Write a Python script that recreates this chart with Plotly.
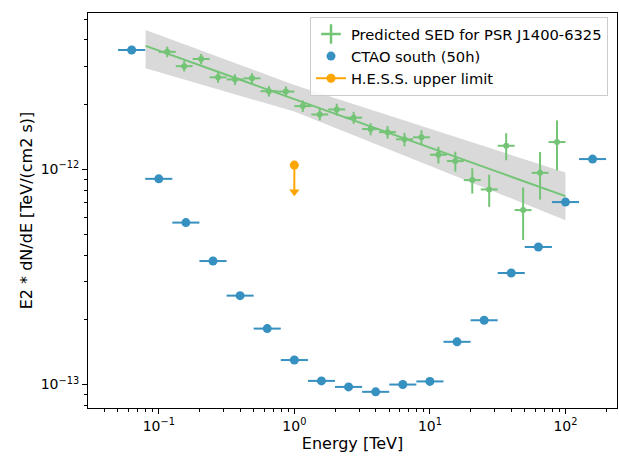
import plotly.graph_objects as go

# ---------------- data ----------------
# CTAO south (50h) sensitivity
ctao_energy = [0.0631, 0.1, 0.1585, 0.2512, 0.3981, 0.631, 1.0, 1.585, 2.512, 3.981,
               6.31, 10.0, 15.85, 25.12, 39.81, 63.1, 100.0, 158.5]
ctao_e_lo = [0.0501, 0.0794, 0.1259, 0.1995, 0.3162, 0.5012, 0.7943, 1.259, 1.995, 3.162,
             5.012, 7.943, 12.59, 19.95, 31.62, 50.12, 79.43, 125.9]
ctao_e_hi = [0.0794, 0.1259, 0.1995, 0.3162, 0.5012, 0.7943, 1.259, 1.995, 3.162, 5.012,
             7.943, 12.59, 19.95, 31.62, 50.12, 79.43, 125.9, 199.5]
ctao_flux = [3.59e-12, 9.04e-13, 5.66e-13, 3.75e-13, 2.59e-13, 1.82e-13, 1.30e-13, 1.04e-13,
             9.75e-14, 9.25e-14, 1.00e-13, 1.034e-13, 1.58e-13, 1.99e-13, 3.30e-13, 4.36e-13,
             7.05e-13, 1.117e-12]

# Predicted SED for PSR J1400-6325
sed_energy = [0.1155, 0.154, 0.2054, 0.2738, 0.3652, 0.487, 0.6494, 0.866, 1.155, 1.54,
              2.054, 2.738, 3.652, 4.87, 6.494, 8.66, 11.55, 15.4, 20.54, 27.38, 36.52,
              48.7, 64.94, 86.6]
sed_e_lo = [0.1, 0.1334, 0.1778, 0.2371, 0.3162, 0.4217, 0.5623, 0.7499, 1.0, 1.334, 1.778,
            2.371, 3.162, 4.217, 5.623, 7.499, 10.0, 13.34, 17.78, 23.71, 31.62, 42.17,
            56.23, 74.99]
sed_e_hi = [0.1334, 0.1778, 0.2371, 0.3162, 0.4217, 0.5623, 0.7499, 1.0, 1.334, 1.778, 2.371,
            3.162, 4.217, 5.623, 7.499, 10.0, 13.34, 17.78, 23.71, 31.62, 42.17, 56.23,
            74.99, 100.0]
sed_flux = [3.52e-12, 3.02e-12, 3.26e-12, 2.68e-12, 2.62e-12, 2.65e-12, 2.31e-12, 2.30e-12,
            1.97e-12, 1.80e-12, 1.90e-12, 1.74e-12, 1.54e-12, 1.49e-12, 1.38e-12, 1.41e-12,
            1.17e-12, 1.093e-12, 8.92e-13, 8.07e-13, 1.288e-12, 6.47e-13, 9.64e-13, 1.34e-12]
sed_err = [0.20e-12, 0.17e-12, 0.18e-12, 0.15e-12, 0.15e-12, 0.15e-12, 0.13e-12, 0.13e-12,
           0.12e-12, 0.11e-12, 0.12e-12, 0.11e-12, 0.10e-12, 0.10e-12, 0.10e-12, 0.11e-12,
           0.105e-12, 0.116e-12, 0.12e-12, 0.137e-12, 0.185e-12, 0.177e-12, 0.24e-12, 0.35e-12]

# Power-law model and its uncertainty band
model_energy = [0.08, 100.0]
model_flux = [3.75e-12, 7.51e-13]
band_energy = [0.08, 1.0, 100.0]
band_upper = [4.45e-12, 2.47e-12, 9.68e-13]
band_lower = [2.95e-12, 1.858e-12, 5.81e-13]

# H.E.S.S. upper limit
hess_energy = [1.0]
hess_flux = [1.047e-12]
hess_err = [0.26e-12]

# ticks
x_tickvals = [0.1, 1, 10, 100]
x_ticktext = ["10<sup>\u22121</sup>", "10<sup>0</sup>", "10<sup>1</sup>", "10<sup>2</sup>"]
y_tickvals = [1e-13, 1e-12]
y_ticktext = ["10<sup>\u221213</sup>", "10<sup>\u221212</sup>"]

GREEN = "#74c476"
BLUE = "#3690c0"
ORANGE = "#ffa500"
FONT = "DejaVu Sans"

fig = go.Figure()

# band
fig.add_trace(go.Scatter(x=band_energy, y=band_lower, mode="lines", line=dict(width=0),
                         showlegend=False, hoverinfo="skip"))
fig.add_trace(go.Scatter(x=band_energy, y=band_upper, mode="lines", line=dict(width=0),
                         fill="tonexty", fillcolor="#d9d9d9", showlegend=False, hoverinfo="skip"))
# model line
fig.add_trace(go.Scatter(x=model_energy, y=model_flux, mode="lines",
                         line=dict(color=GREEN, width=2), showlegend=False))
# SED points
fig.add_trace(go.Scatter(
    x=sed_energy, y=sed_flux, mode="markers",
    marker=dict(color=GREEN, size=6, symbol="circle"),
    error_x=dict(type="data", symmetric=False,
                 array=[h - e for h, e in zip(sed_e_hi, sed_energy)],
                 arrayminus=[e - l for e, l in zip(sed_energy, sed_e_lo)],
                 color=GREEN, thickness=2, width=0),
    error_y=dict(type="data", array=sed_err, color=GREEN, thickness=2, width=0),
    showlegend=False))
# CTAO points
fig.add_trace(go.Scatter(
    x=ctao_energy, y=ctao_flux, mode="markers",
    marker=dict(color=BLUE, size=9, symbol="circle"),
    error_x=dict(type="data", symmetric=False,
                 array=[h - e for h, e in zip(ctao_e_hi, ctao_energy)],
                 arrayminus=[e - l for e, l in zip(ctao_energy, ctao_e_lo)],
                 color=BLUE, thickness=2, width=0),
    showlegend=False))
# HESS upper limit
fig.add_trace(go.Scatter(
    x=hess_energy, y=hess_flux, mode="markers",
    marker=dict(color=ORANGE, size=9, symbol="circle"),
    error_y=dict(type="data", symmetric=False, array=[0 for _ in hess_err], arrayminus=hess_err,
                 color=ORANGE, thickness=2, width=0),
    showlegend=False))
fig.add_trace(go.Scatter(
    x=hess_energy, y=[f - e for f, e in zip(hess_flux, hess_err)], mode="markers",
    marker=dict(color=ORANGE, size=9, symbol="triangle-down"),
    showlegend=False))

# legend entries
fig.add_trace(go.Scatter(x=[None], y=[None], mode="markers", name="Predicted SED for PSR J1400-6325",
                         marker=dict(color=GREEN, size=14, symbol="cross-thin",
                                     line=dict(color=GREEN, width=2.5))))
fig.add_trace(go.Scatter(x=[None], y=[None], mode="markers", name="CTAO south (50h)",
                         marker=dict(color=BLUE, size=9, symbol="circle")))
fig.add_trace(go.Scatter(x=[None], y=[None], mode="lines+markers", name="H.E.S.S. upper limit",
                         line=dict(color=ORANGE, width=2),
                         marker=dict(color=ORANGE, size=9, symbol="circle")))

minor_x = [m * 10.0 ** d for d in range(-2, 3) for m in range(2, 10)]
minor_y = [m * 10.0 ** d for d in range(-14, -11) for m in range(2, 10)]

axis_common = dict(type="log", showgrid=False, zeroline=False, showline=True, linecolor="black",
                   linewidth=1.1, mirror=True, ticks="outside", ticklen=5, tickwidth=1.1,
                   tickcolor="black", tickfont=dict(family=FONT, size=14, color="black"),
                   tickmode="array")

fig.update_layout(
    width=619, height=457,
    margin=dict(l=88, r=2, t=13, b=49),
    paper_bgcolor="white", plot_bgcolor="white",
    template="none",
    font=dict(family=FONT, size=14, color="black"),
    xaxis=dict(**axis_common, range=[-1.522, 2.380], tickvals=x_tickvals, ticktext=x_ticktext,
               minor=dict(tickmode="array", tickvals=minor_x, ticks="outside", ticklen=2.8,
                          tickwidth=0.8, tickcolor="black"),
               title=dict(text="Energy [TeV]", font=dict(family=FONT, size=16), standoff=3)),
    yaxis=dict(**axis_common, range=[-13.109, -11.273], tickvals=y_tickvals, ticktext=y_ticktext,
               minor=dict(tickmode="array", tickvals=minor_y, ticks="outside", ticklen=2.8,
                          tickwidth=0.8, tickcolor="black"),
               title=dict(text="E2 * dN/dE [TeV/(cm2 s)]", font=dict(family=FONT, size=16), standoff=4)),
    legend=dict(x=0.983, y=0.99, xanchor="right", yanchor="top", bgcolor="rgba(255,255,255,0.8)",
                bordercolor="#cccccc", borderwidth=1, font=dict(family=FONT, size=14.7),
                tracegroupgap=0, traceorder="normal"),
    showlegend=True,
)

fig.write_html("out.html")
